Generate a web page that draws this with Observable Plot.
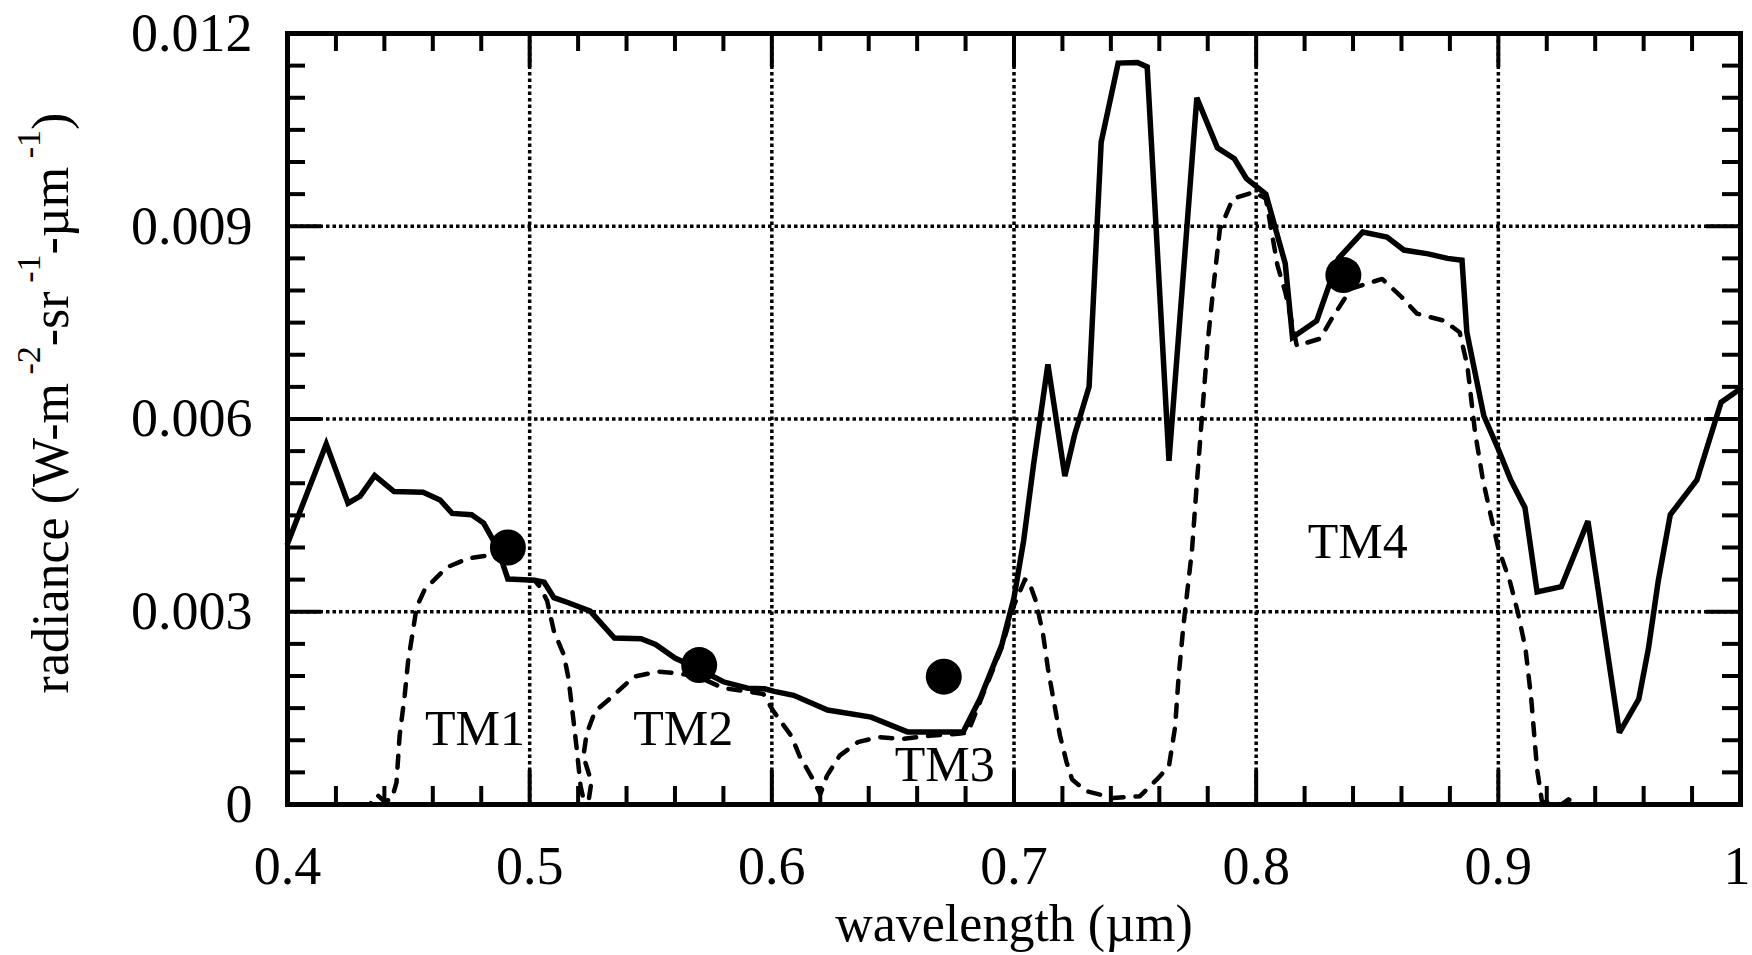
<!DOCTYPE html>
<html>
<head>
<meta charset="utf-8">
<script src="https://cdn.jsdelivr.net/npm/d3@7"></script>
<script src="https://cdn.jsdelivr.net/npm/@observablehq/plot@0.6"></script>
<style>
  html, body { margin: 0; padding: 0; background: #fff; }
  #chart svg { display: block; }
</style>
</head>
<body>
<div id="chart"></div>
<script>
// ---- data ----
const solidWavelength = [0.400,0.416,0.425,0.430,0.436,0.444,0.456,0.463,0.468,0.476,0.481,0.485,0.488,0.491,0.502,0.506,0.510,0.516,0.525,0.535,0.546,0.552,0.560,0.569,0.580,0.590,0.597,0.601,0.609,0.623,0.641,0.656,0.679,0.686,0.695,0.700,0.704,0.708,0.714,0.721,0.725,0.731,0.736,0.743,0.751,0.755,0.764,0.7755,0.784,0.791,0.796,0.804,0.812,0.815,0.825,0.834,0.844,0.854,0.861,0.871,0.879,0.885,0.887,0.894,0.900,0.905,0.911,0.916,0.926,0.937,0.950,0.958,0.962,0.966,0.971,0.982,0.992,1.000];
const solidRadiance = [0.00406,0.00561,0.00469,0.00480,0.00512,0.00487,0.00486,0.00474,0.00453,0.00451,0.00438,0.00411,0.00385,0.00351,0.00349,0.00346,0.00322,0.00314,0.00301,0.00259,0.00258,0.00249,0.00228,0.00212,0.00191,0.00181,0.00180,0.00176,0.00170,0.00147,0.00136,0.00113,0.00113,0.00165,0.00249,0.00322,0.00411,0.00527,0.00685,0.00511,0.00575,0.00650,0.01031,0.01154,0.01155,0.01148,0.00535,0.01100,0.01022,0.01005,0.00974,0.00950,0.00842,0.00727,0.00753,0.00850,0.00891,0.00883,0.00863,0.00857,0.00850,0.00847,0.00735,0.00605,0.00553,0.00506,0.00462,0.00331,0.00339,0.00441,0.00112,0.00164,0.00243,0.00347,0.00451,0.00505,0.00626,0.00647];

const dashedWavelength = [0.400,0.434,0.437,0.440,0.443,0.445,0.4463,0.4484,0.4498,0.452,0.4533,0.4567,0.4657,0.4747,0.4837,0.4885,0.491,0.502,0.5044,0.5072,0.510,0.5141,0.516,0.518,0.5196,0.521,0.5224,0.5245,0.5255,0.5222,0.5235,0.527,0.535,0.543,0.553,0.561,0.569,0.580,0.590,0.5965,0.6007,0.608,0.6114,0.617,0.620,0.6228,0.628,0.6355,0.644,0.6538,0.665,0.677,0.681,0.686,0.695,0.700,0.7045,0.706,0.709,0.712,0.714,0.716,0.719,0.7217,0.724,0.7297,0.741,0.752,0.759,0.764,0.7665,0.768,0.770,0.7735,0.7755,0.780,0.7824,0.785,0.7904,0.799,0.804,0.8088,0.812,0.8168,0.8264,0.8312,0.8392,0.852,0.860,0.8664,0.8776,0.884,0.8872,0.8904,0.8936,0.8968,0.900,0.9048,0.908,0.9112,0.9136,0.916,0.918,0.926,0.929,0.932,1.000];
const dashedRadiance = [0,0,0.00015,0.00005,0.00008,0.00034,0.00107,0.00170,0.00223,0.00275,0.00307,0.00335,0.00369,0.00383,0.00388,0.00380,0.00351,0.00349,0.00338,0.00317,0.00270,0.00233,0.00197,0.00134,0.00081,0.00029,0.00005,0.00010,0.00035,0.00075,0.00110,0.00145,0.00171,0.00199,0.00207,0.00204,0.00200,0.00181,0.00176,0.00172,0.00145,0.00107,0.00076,0.00039,0.00016,0.00045,0.00076,0.00097,0.00105,0.00102,0.00107,0.00110,0.00112,0.00160,0.00245,0.00310,0.00350,0.00349,0.00317,0.00265,0.00212,0.00170,0.00107,0.00066,0.00039,0.00021,0.00010,0.00013,0.00039,0.00060,0.00120,0.00200,0.00280,0.00396,0.00500,0.00720,0.00807,0.00895,0.00943,0.00953,0.00943,0.00839,0.00798,0.00714,0.00725,0.00756,0.00803,0.00818,0.00790,0.00764,0.00753,0.00735,0.00683,0.00579,0.00506,0.00451,0.00399,0.00347,0.00300,0.00243,0.00164,0.00055,0.00005,0,0.00008,0,0];

const dotWavelength = [0.491, 0.570, 0.671, 0.836];
const dotRadiance = [0.00400, 0.00217, 0.00199, 0.00824];

const bandNames = ["TM1", "TM2", "TM3", "TM4"];
const bandWavelength = [0.4774, 0.5634, 0.6714, 0.8419];
const bandRadiance = [0.00092, 0.00092, 0.00037, 0.00384];

const xTickValues = [0.4, 0.5, 0.6, 0.7, 0.8, 0.9];
const xTickLabels = ["0.4", "0.5", "0.6", "0.7", "0.8", "0.9"];
const xEndTick = [1.0];
const xEndLabel = ["1"];
const yTickValues = [0, 0.003, 0.006, 0.009, 0.012];
const yTickLabels = ["0", "0.003", "0.006", "0.009", "0.012"];
const xGrid = [0.5, 0.6, 0.7, 0.8, 0.9];
const yGrid = [0.003, 0.006, 0.009];
const xMinor = [0.42,0.44,0.46,0.48,0.52,0.54,0.56,0.58,0.62,0.64,0.66,0.68,0.72,0.74,0.76,0.78,0.82,0.84,0.86,0.88,0.92,0.94,0.96,0.98];
const yMinor = [0.0005,0.001,0.0015,0.002,0.0025,0.0035,0.004,0.0045,0.005,0.0055,0.0065,0.007,0.0075,0.008,0.0085,0.0095,0.01,0.0105,0.011,0.0115];

const xLabel = "wavelength (µm)";
const yLabelParts = [["radiance (W-m", false], [" -2", true], ["-sr", false], [" -1", true], ["-µm", false], [" -1", true], [")", false]];

// ---- build tables ----
const solid = solidWavelength.map((w, i) => ({w, r: solidRadiance[i]}));
const dashed = dashedWavelength.map((w, i) => ({w, r: dashedRadiance[i]}));
const dots = dotWavelength.map((w, i) => ({w, r: dotRadiance[i]}));
const bands = bandNames.map((name, i) => ({name, w: bandWavelength[i], r: bandRadiance[i]}));

const W = 1752, H = 955;
const mL = 287, mR = 12, mT = 33, mB = 151;
const fw = W - mL - mR, fh = H - mT - mB;
const minorLen = 18, majorLen = 34;
const font = "'Liberation Serif', 'Times New Roman', Times, serif";

const chart = Plot.plot({
  width: W, height: H,
  marginLeft: mL, marginRight: mR, marginTop: mT, marginBottom: mB,
  style: {fontFamily: font, fontSize: "54px", background: "#fff", color: "#000"},
  x: {domain: [0.4, 1.0], label: null},
  y: {domain: [0, 0.012], label: null},
  marks: [
    // dotted grid
    Plot.ruleX(xGrid, {x: d => d, stroke: "#000", strokeWidth: 3.5, strokeDasharray: "3.5,3"}),
    Plot.ruleY(yGrid, {y: d => d, stroke: "#000", strokeWidth: 3.5, strokeDasharray: "3.5,3"}),
    // inward ticks on four sides
    Plot.ruleX(xMinor, {x: d => d, insetTop: fh - minorLen, strokeWidth: 4}),
    Plot.ruleX(xMinor, {x: d => d, insetBottom: fh - minorLen, strokeWidth: 4}),
    Plot.ruleX(xGrid, {x: d => d, insetTop: fh - majorLen, strokeWidth: 4}),
    Plot.ruleX(xGrid, {x: d => d, insetBottom: fh - majorLen, strokeWidth: 4}),
    Plot.ruleY(yMinor, {y: d => d, insetRight: fw - minorLen, strokeWidth: 4}),
    Plot.ruleY(yMinor, {y: d => d, insetLeft: fw - minorLen, strokeWidth: 4}),
    Plot.ruleY(yGrid, {y: d => d, insetRight: fw - majorLen, strokeWidth: 4}),
    Plot.ruleY(yGrid, {y: d => d, insetLeft: fw - majorLen, strokeWidth: 4}),
    // curves
    Plot.line(dashed, {x: "w", y: "r", stroke: "#000", strokeWidth: 4.5, strokeDasharray: "12,12", strokeLinejoin: "round"}),
    Plot.line(solid, {x: "w", y: "r", stroke: "#000", strokeWidth: 5.5, strokeLinejoin: "miter", strokeMiterlimit: 3}),
    Plot.dot(dots, {x: "w", y: "r", r: 18, fill: "#000", stroke: null}),
    // frame
    Plot.frame({stroke: "#000", strokeWidth: 5}),
    // band labels
    Plot.text(bands, {x: "w", y: "r", text: "name", fontSize: 50, lineAnchor: "bottom", textAnchor: "middle", fill: "#000"}),
    // axes (labels only)
    Plot.axisX({ticks: xTickValues, tickSize: 0, tickPadding: 41, fontSize: 54, tickFormat: d => xTickLabels[xTickValues.indexOf(d)], label: null}),
    Plot.axisX({ticks: xEndTick, tickSize: 0, tickPadding: 41, fontSize: 54, textAnchor: "end", dx: 10, tickFormat: d => xEndLabel[xEndTick.indexOf(d)], label: null}),
    Plot.axisY({ticks: yTickValues, tickSize: 0, tickPadding: 35, fontSize: 54, tickFormat: d => yTickLabels[yTickValues.indexOf(d)], label: null}),
    // x label
    Plot.text([xLabel], {frameAnchor: "bottom", dy: 136, lineAnchor: "bottom", textAnchor: "middle", fontSize: 52, text: d => d, fill: "#000"})
  ]
});

document.getElementById("chart").append(chart);

// y-axis title with superscripts
const svg = d3.select(chart);
const yTitle = svg.append("text")
  .attr("transform", "translate(68,403) rotate(-90)")
  .attr("text-anchor", "middle")
  .attr("font-family", font)
  .attr("font-size", 52)
  .attr("fill", "#000");
let raised = false;
for (const [txt, sup] of yLabelParts) {
  const ts = yTitle.append("tspan").text(txt);
  if (sup && !raised) { ts.attr("dy", -28).attr("font-size", 34); raised = true; }
  else if (!sup && raised) { ts.attr("dy", 28); raised = false; }
  else if (sup) { ts.attr("font-size", 34); }
}
</script>
</body>
</html>
